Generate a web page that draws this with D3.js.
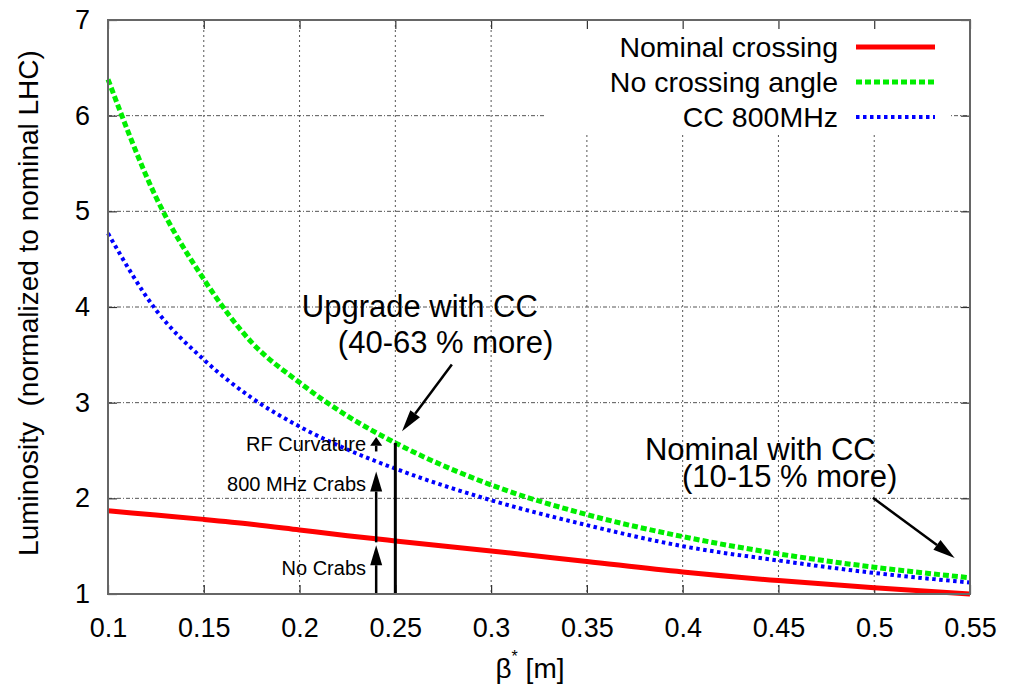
<!DOCTYPE html>
<html>
<head>
<meta charset="utf-8">
<script src="https://cdn.jsdelivr.net/npm/d3@7"></script>
<style>
  body { margin: 0; background: #fff; }
  text { font-family: "Liberation Sans", Arial, sans-serif; fill: #000; }
</style>
</head>
<body>
<svg width="1017" height="686"></svg>
<script>
// beta* [m] sample points
const betaValues = [0.1, 0.125, 0.15, 0.175, 0.2, 0.225, 0.25, 0.3, 0.35, 0.4, 0.45, 0.5, 0.55];
const nominalCrossing = [1.87, 1.825, 1.78, 1.73, 1.67, 1.61, 1.555, 1.45, 1.34, 1.23, 1.14, 1.065, 1.0];
const noCrossingAngle = [6.38, 5.15, 4.29, 3.63, 3.21, 2.86, 2.58, 2.14, 1.83, 1.60, 1.42, 1.28, 1.17];
const cc800MHz = [4.77, 3.97, 3.45, 3.05, 2.75, 2.51, 2.31, 1.98, 1.72, 1.50, 1.35, 1.22, 1.12];

const seriesNames = ['Nominal crossing', 'No crossing angle', 'CC 800MHz'];
const xTicks = [0.1, 0.15, 0.2, 0.25, 0.3, 0.35, 0.4, 0.45, 0.5, 0.55];
const yTicks = [1, 2, 3, 4, 5, 6, 7];

// annotations (data units)
const stepLabels = ['RF Curvature', '800 MHz Crabs', 'No Crabs'];
const stepLabelLum = [2.49, 2.08, 1.20];
const stepBeta = 0.24;
const stepFrom = [1.0, 1.54, 2.49];
const stepTo = [1.51, 2.28, 2.64];
const upgradeBeta = 0.25;

const noteText = ['Upgrade with CC', '(40-63 % more)', 'Nominal with CC', '(10-15 % more)'];
const noteBeta = [0.2012, 0.22, 0.3803, 0.3996];
const noteLum = [3.90, 3.52, 2.40, 2.12];
const pointerFrom = [[0.2795, 3.40], [0.4993, 2.005]];
const pointerTo = [[0.2535, 2.70], [0.542, 1.377]];

const margin = { left: 108, right: 47, top: 20, bottom: 92 };
const svg = d3.select('svg');
const width = +svg.attr('width');
const height = +svg.attr('height');
const innerWidth = width - margin.left - margin.right;
const innerHeight = height - margin.top - margin.bottom;

const g = svg.append('g')
  .attr('transform', `translate(${margin.left}, ${margin.top})`);

const xScale = d3.scaleLinear().domain([0.1, 0.55]).range([0, innerWidth]);
const yScale = d3.scaleLinear().domain([1, 7]).range([innerHeight, 0]);

// grid
g.append('g').selectAll('line').data(xTicks.slice(1, -1))
  .enter().append('line')
  .attr('x1', d => xScale(d)).attr('x2', d => xScale(d))
  .attr('y1', 0).attr('y2', innerHeight)
  .attr('stroke', '#555').attr('stroke-width', 1)
  .attr('stroke-dasharray', '2,3');
g.append('g').selectAll('line').data(yTicks.slice(1, -1))
  .enter().append('line')
  .attr('x1', 0).attr('x2', innerWidth)
  .attr('y1', d => yScale(d)).attr('y2', d => yScale(d))
  .attr('stroke', '#555').attr('stroke-width', 1)
  .attr('stroke-dasharray', '4,2,1,2');

// legend box covers grid
g.append('rect')
  .attr('x', 437).attr('y', 1)
  .attr('width', 405).attr('height', 114)
  .attr('fill', '#fff');

// axes: ticks point inward, mirrored on top and right
g.append('g').attr('transform', `translate(0, ${innerHeight})`)
  .call(d3.axisBottom(xScale).tickValues(xTicks).tickSize(-9).tickPadding(24)
    .tickFormat(d3.format('')));
g.append('g')
  .call(d3.axisLeft(yScale).tickValues(yTicks).tickSize(-9).tickPadding(18)
    .tickFormat(d3.format('d')));
g.append('g').attr('class', 'mirror')
  .call(d3.axisTop(xScale).tickValues(xTicks).tickSize(-9));
g.append('g').attr('class', 'mirror').attr('transform', `translate(${innerWidth}, 0)`)
  .call(d3.axisRight(yScale).tickValues(yTicks).tickSize(-9));
g.selectAll('.mirror text').remove();
g.selectAll('.domain').remove();
g.selectAll('.tick line').attr('stroke', '#333').attr('stroke-width', 1.2);
g.selectAll('.tick text').attr('font-size', 27)
  .attr('font-family', '"Liberation Sans", Arial, sans-serif').attr('fill', '#000');

// curves
const series = [
  { name: seriesNames[0], values: nominalCrossing, color: '#ff0000', dash: null, w: 5 },
  { name: seriesNames[1], values: noCrossingAngle, color: '#00ee00', dash: '6,3', w: 5 },
  { name: seriesNames[2], values: cc800MHz, color: '#0000ff', dash: '3.5,3.5', w: 4 }
];
const line = d3.line()
  .x((d, i) => xScale(betaValues[i]))
  .y(d => yScale(d))
  .curve(d3.curveMonotoneX);

series.slice().reverse().forEach(s => {
  g.append('path')
    .attr('d', line(s.values))
    .attr('fill', 'none')
    .attr('stroke', s.color)
    .attr('stroke-width', s.w)
    .attr('stroke-dasharray', s.dash);
});

// legend
const legend = g.append('g');
series.forEach((s, i) => {
  const y = 27 + i * 35;
  legend.append('text')
    .attr('x', 730).attr('y', y).attr('dy', '0.35em')
    .attr('text-anchor', 'end').attr('font-size', 28.5)
    .text(s.name);
  legend.append('line')
    .attr('x1', 748).attr('x2', 827)
    .attr('y1', y).attr('y2', y)
    .attr('stroke', s.color).attr('stroke-width', s.w)
    .attr('stroke-dasharray', s.dash);
});

// arrows
function arrow(x1, y1, x2, y2, headLen, headW) {
  const dx = x2 - x1, dy = y2 - y1;
  const len = Math.sqrt(dx * dx + dy * dy);
  const ux = dx / len, uy = dy / len;
  const hl = Math.min(headLen, len * 0.6);
  const bx = x2 - ux * hl, by = y2 - uy * hl;
  g.append('line')
    .attr('x1', x1).attr('y1', y1).attr('x2', bx).attr('y2', by)
    .attr('stroke', '#000').attr('stroke-width', 2.5);
  g.append('path')
    .attr('d', `M${x2},${y2}L${bx - uy * headW},${by + ux * headW}L${bx + uy * headW},${by - ux * headW}Z`)
    .attr('fill', '#000');
}

stepFrom.forEach((v, i) => {
  arrow(xScale(stepBeta), yScale(v), xScale(stepBeta), yScale(stepTo[i]), 20, 6);
});
g.append('line')
  .attr('x1', xScale(upgradeBeta)).attr('x2', xScale(upgradeBeta))
  .attr('y1', yScale(1)).attr('y2', yScale(noCrossingAngle[betaValues.indexOf(upgradeBeta)]))
  .attr('stroke', '#000').attr('stroke-width', 3);

pointerFrom.forEach((p, i) => {
  arrow(xScale(p[0]), yScale(p[1]), xScale(pointerTo[i][0]), yScale(pointerTo[i][1]), 22, 6);
});

stepLabels.forEach((t, i) => {
  g.append('text')
    .attr('x', xScale(0.2347)).attr('y', yScale(stepLabelLum[i]))
    .attr('text-anchor', 'end').attr('font-size', 20)
    .text(t);
});
noteText.forEach((t, i) => {
  g.append('text')
    .attr('x', xScale(noteBeta[i])).attr('y', yScale(noteLum[i]))
    .attr('font-size', 31)
    .text(t);
});

// border
g.append('rect')
  .attr('width', innerWidth).attr('height', innerHeight)
  .attr('fill', 'none').attr('stroke', '#666').attr('stroke-width', 2);

// axis titles
svg.append('text')
  .attr('transform', 'translate(38, 303) rotate(-90)')
  .attr('text-anchor', 'middle').attr('font-size', 28)
  .text('Luminosity\u00a0\u00a0(normalized to nominal LHC)');

const xTitle = svg.append('text')
  .attr('x', 530).attr('y', 678)
  .attr('text-anchor', 'middle').attr('font-size', 28);
xTitle.append('tspan').text('\u03b2');
xTitle.append('tspan').attr('dy', -16).attr('font-size', 16).text('*');
xTitle.append('tspan').attr('dy', 16).text(' [m]');
</script>
</body>
</html>
